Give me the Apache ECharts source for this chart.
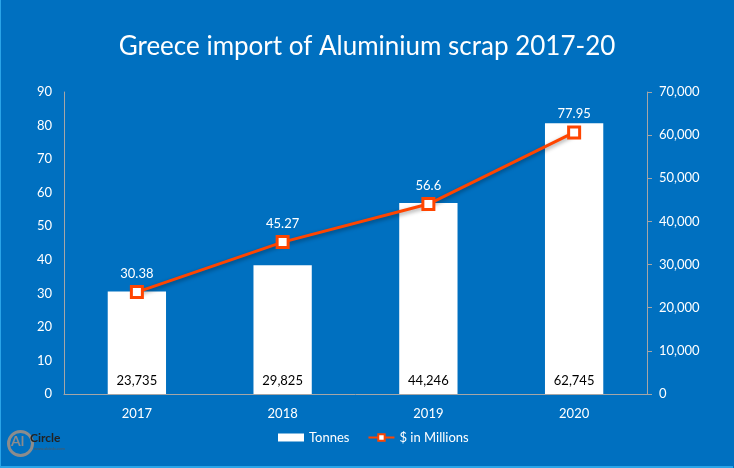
<!DOCTYPE html>
<html>
<head>
<meta charset="utf-8">
<script src="https://cdn.jsdelivr.net/npm/echarts@6/dist/echarts.min.js"></script>
<style>
  html, body { margin: 0; padding: 0; background: #0070c0; }
  #chart { width: 732px; height: 466px; border-left: 1px solid #2aa4e8; border-bottom: 2px solid #2aa4e8; box-sizing: content-box; }
</style>
</head>
<body>
<div id="chart"></div>
<script>
const years = ['2017', '2018', '2019', '2020'];
const tonnes = [23735, 29825, 44246, 62745];
const millions = [30.38, 45.27, 56.6, 77.95];

const font = 'Lato, "Open Sans", sans-serif';
const chart = echarts.init(document.getElementById('chart'));

chart.setOption({
    backgroundColor: '#0070c0',
    textStyle: { fontFamily: font },
    title: {
        text: 'Greece import of Aluminium scrap 2017-20',
        left: 'center',
        top: 29,
        textStyle: { color: '#fff', fontSize: 26, fontWeight: 'normal', fontFamily: font }
    },
    legend: {
        bottom: 17,
        left: 272,
        itemGap: 18,
        textStyle: { color: '#fff', fontSize: 13 },
        data: [
            { name: 'Tonnes', icon: 'rect', itemStyle: { color: '#fff' } },
            { name: '$ in Millions' }
        ],
        itemWidth: 26,
        itemHeight: 8
    },
    grid: { left: 63, right: 86, top: 92, bottom: 72 },
    xAxis: {
        type: 'category',
        data: years,
        axisLine: { lineStyle: { color: '#a6a6a6' } },
        axisTick: { show: false },
        axisLabel: { color: '#fff', fontSize: 13, margin: 13 }
    },
    yAxis: [
        {
            type: 'value', min: 0, max: 90, interval: 10,
            axisLine: { show: true, lineStyle: { color: '#a6a6a6' } },
            axisTick: { show: false },
            splitLine: { show: false },
            axisLabel: { color: '#fff', fontSize: 13, margin: 12 }
        },
        {
            type: 'value', min: 0, max: 70000, interval: 10000,
            axisLine: { show: true, lineStyle: { color: '#a6a6a6' } },
            axisTick: { show: true, length: 5, lineStyle: { color: '#a6a6a6' } },
            splitLine: { show: false },
            axisLabel: {
                color: '#fff', fontSize: 13, margin: 12,
                formatter: v => v.toLocaleString('en-US')
            }
        }
    ],
    series: [
        {
            name: 'Tonnes',
            type: 'bar',
            yAxisIndex: 1,
            data: tonnes,
            barWidth: '40%',
            itemStyle: { color: '#fff' },
            label: {
                show: true,
                position: 'insideBottom',
                distance: 7,
                color: '#000',
                fontSize: 13,
                formatter: p => p.value.toLocaleString('en-US')
            }
        },
        {
            name: '$ in Millions',
            type: 'line',
            yAxisIndex: 0,
            data: millions,
            symbol: 'rect',
            symbolSize: 11,
            lineStyle: { color: '#ff4500', width: 3, shadowColor: 'rgba(0,0,0,0.4)', shadowBlur: 4, shadowOffsetY: 2 },
            itemStyle: { color: '#fff', borderColor: '#ff4500', borderWidth: 3 },
            label: {
                show: true,
                position: 'top',
                distance: 5,
                color: '#fff',
                fontSize: 13
            },
            z: 5
        }
    ],
    graphic: [
        {
            type: 'circle',
            left: 5, top: 429,
            shape: { r: 12 },
            style: { fill: 'none', stroke: '#8c8c8c', lineWidth: 3 }
        },
        {
            type: 'text',
            left: 10, top: 434,
            style: { text: 'Al', fill: '#8c8c8c', font: 'bold 14px ' + font }
        },
        {
            type: 'text',
            left: 29, top: 432,
            style: { text: 'Circle', fill: '#222', font: 'bold 12px ' + font }
        },
        {
            type: 'text',
            left: 33, top: 447,
            style: { text: 'www.alcircle.com', fill: '#555', font: '4px ' + font }
        }
    ]
});
</script>
</body>
</html>
